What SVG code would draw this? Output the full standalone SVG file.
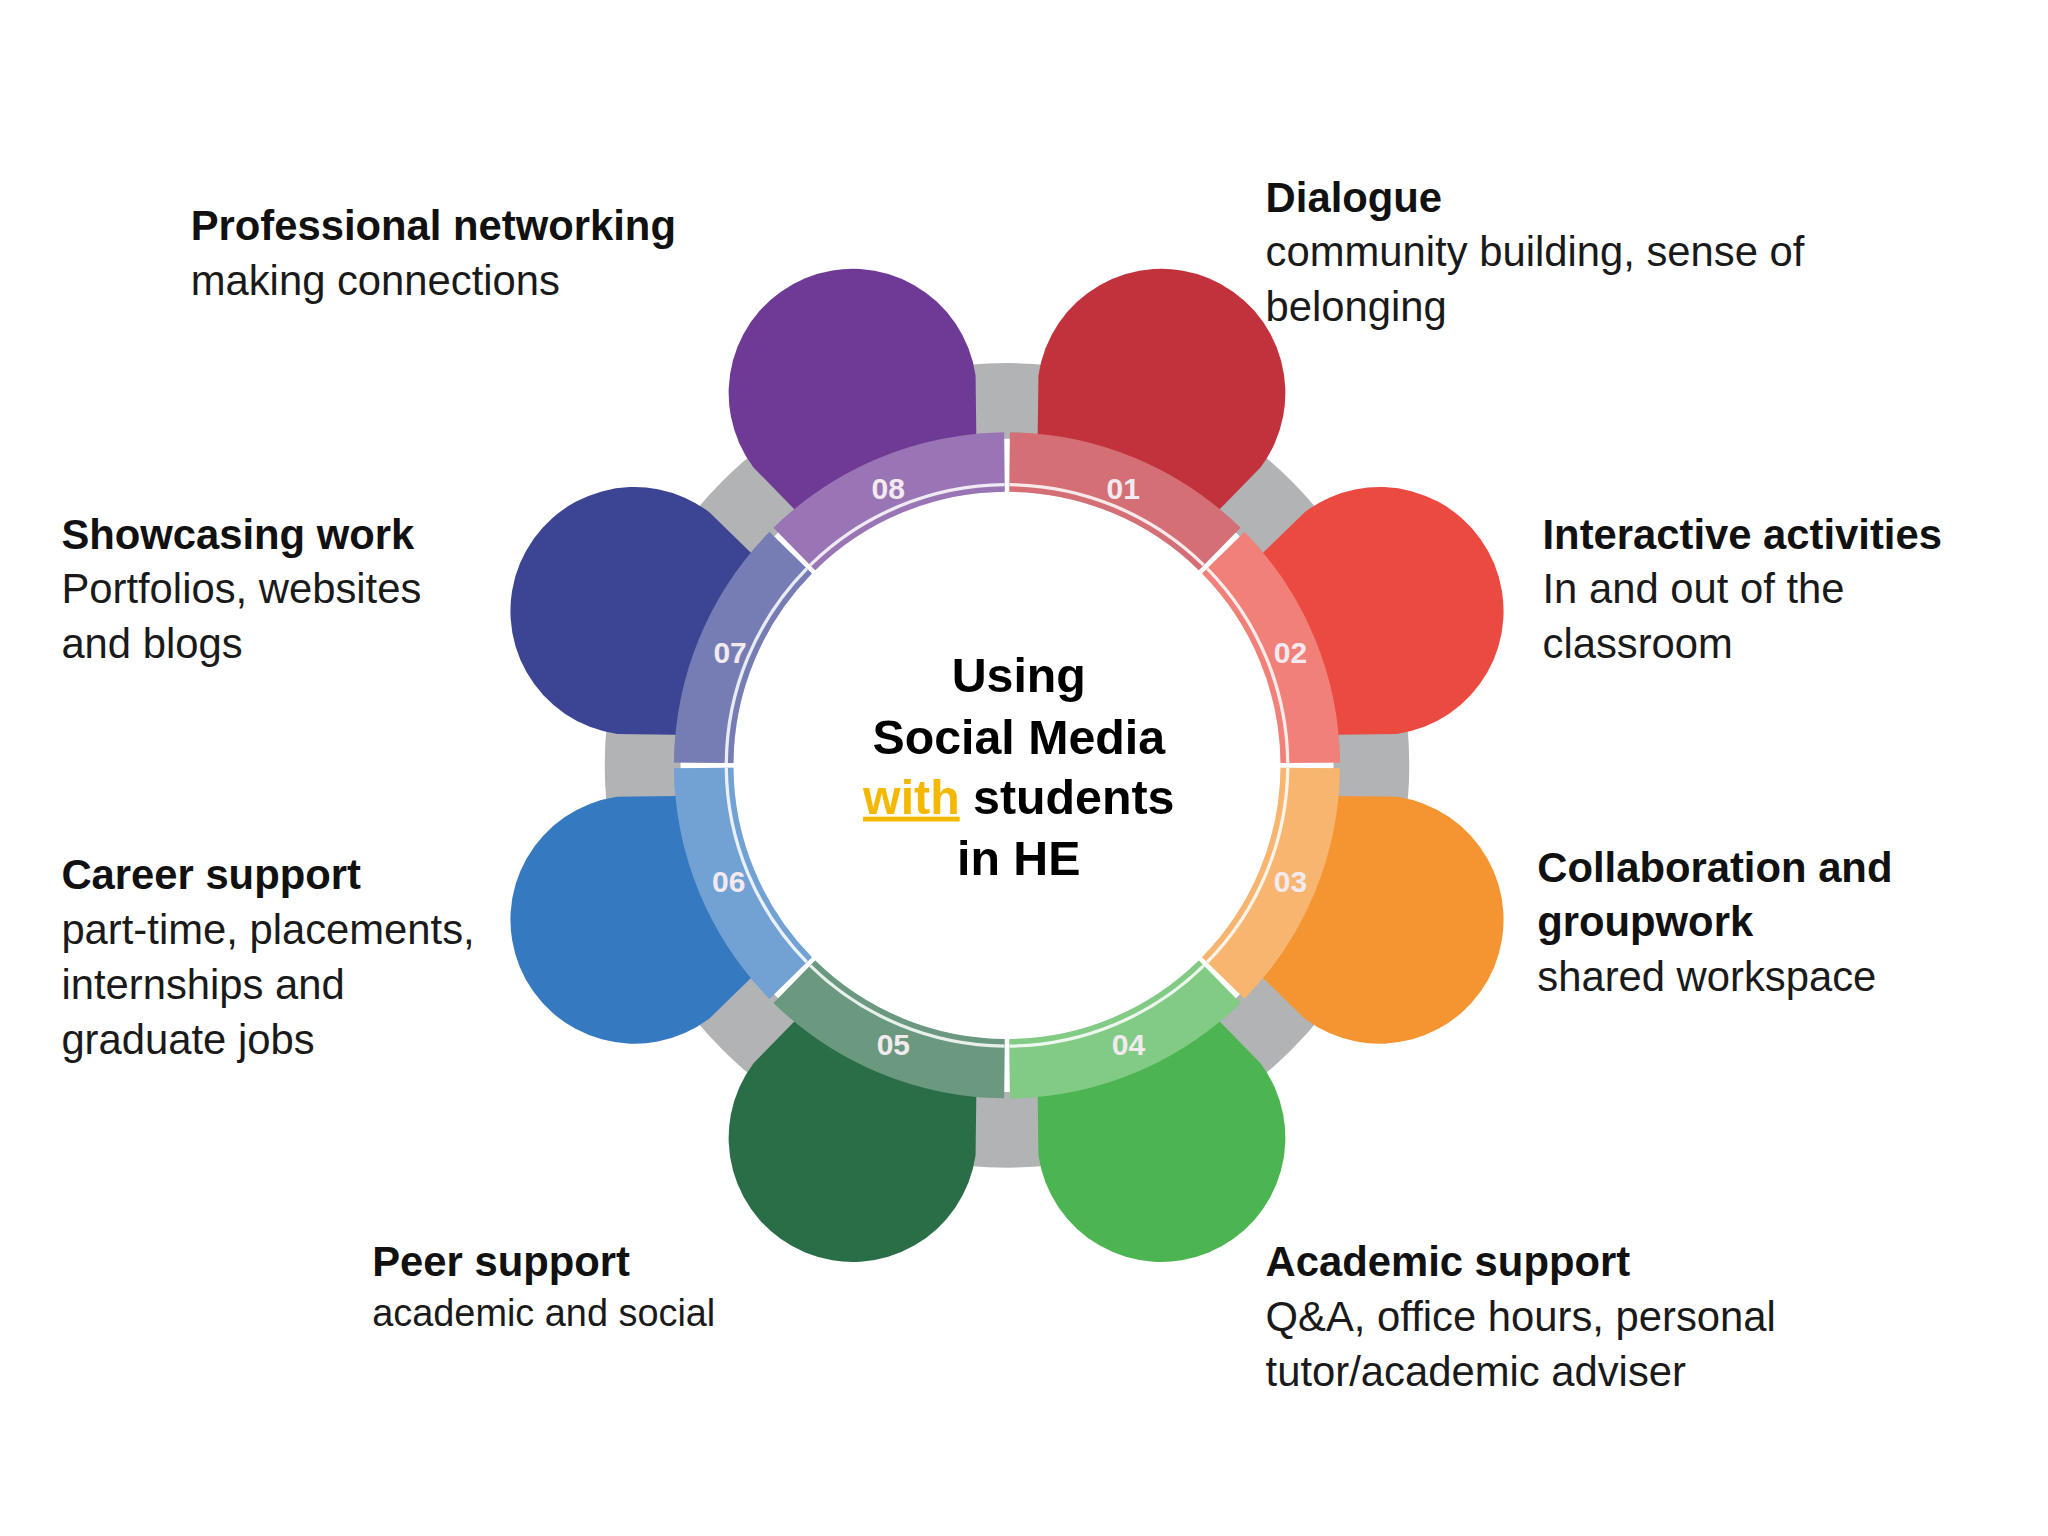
<svg xmlns="http://www.w3.org/2000/svg" width="2048" height="1536" viewBox="0 0 2048 1536">
<style>
.h{font-family:"Liberation Sans",Arial,sans-serif;font-weight:bold;font-size:32px;fill:#111}
.b{font-family:"Liberation Sans",Arial,sans-serif;font-size:32px;fill:#1a1a1a}
.c{font-family:"Liberation Sans",Arial,sans-serif;font-weight:bold;font-size:37px;fill:#000;text-anchor:middle}
.n{font-family:"Liberation Sans",Arial,sans-serif;font-weight:bold;font-size:23px;fill:#f3eaf0;text-anchor:middle}
.ov{fill:#fff;opacity:0.3}
.ln{fill:none;stroke:#fff;stroke-width:2.5;opacity:0.85}
</style>
<defs>
<path id="petal" d="M -70 -230 L -92 -285 A 95 95 0 1 1 92 -285 L 70 -230 Z"/>
<path id="seg" d="M -83.3 -201.1 A 217.7 217.7 0 0 0 0 0 Z" style="display:none"/>
<path id="band" d="M -78.5 -194.2 A 209.5 209.5 0 0 1 78.5 -194.2 L 95.5 -236.4 A 255 255 0 0 0 -95.5 -236.4 Z"/>
<path id="arc" d="M -80.5 -199.3 A 215 215 0 0 1 80.5 -199.3"/>
</defs>
<rect width="2048" height="1536" fill="#fff"/>
<g transform="scale(1.3061)">
<g id="ring"><circle cx="771" cy="586" r="279" fill="none" stroke="#b1b3b5" stroke-width="58"/></g>
<g transform="translate(771,586)">
<g id="node-01" transform="rotate(22.5)"><use href="#petal" fill="#c2323c"/><use href="#band" fill="#c2323c"/><use href="#band" class="ov"/><use href="#arc" class="ln"/></g>
<g id="node-02" transform="rotate(67.5)"><use href="#petal" fill="#eb4a40"/><use href="#band" fill="#eb4a40"/><use href="#band" class="ov"/><use href="#arc" class="ln"/></g>
<g id="node-03" transform="rotate(112.5)"><use href="#petal" fill="#f59532"/><use href="#band" fill="#f59532"/><use href="#band" class="ov"/><use href="#arc" class="ln"/></g>
<g id="node-05" transform="rotate(202.5)"><use href="#petal" fill="#2a6e48"/><use href="#band" fill="#2a6e48"/><use href="#band" class="ov"/><use href="#arc" class="ln"/></g>
<g id="node-04" transform="rotate(157.5)"><use href="#petal" fill="#4cb551"/><use href="#band" fill="#4cb551"/><use href="#band" class="ov"/><use href="#arc" class="ln"/></g>
<g id="node-06" transform="rotate(247.5)"><use href="#petal" fill="#3579c1"/><use href="#band" fill="#3579c1"/><use href="#band" class="ov"/><use href="#arc" class="ln"/></g>
<g id="node-07" transform="rotate(292.5)"><use href="#petal" fill="#3b4594"/><use href="#band" fill="#3b4594"/><use href="#band" class="ov"/><use href="#arc" class="ln"/></g>
<g id="node-08" transform="rotate(337.5)"><use href="#petal" fill="#6f3a95"/><use href="#band" fill="#6f3a95"/><use href="#band" class="ov"/><use href="#arc" class="ln"/></g>
<circle r="204" fill="#fff"/>
</g>
<g id="numbers">
<text class="n" x="860" y="382">01</text>
<text class="n" x="988" y="508">02</text>
<text class="n" x="988" y="683">03</text>
<text class="n" x="864" y="808">04</text>
<text class="n" x="684" y="808">05</text>
<text class="n" x="558" y="683">06</text>
<text class="n" x="559" y="508">07</text>
<text class="n" x="680" y="382">08</text>
</g>
<g id="center">
<text class="c" x="780" y="530">Using</text>
<text class="c" x="780" y="577">Social Media</text>
<text class="c" x="780" y="623"><tspan fill="#f5b800" text-decoration="underline">with</tspan> students</text>
<text class="c" x="780" y="670">in HE</text>
</g>
<g id="labels">
<text class="h" x="146" y="184">Professional networking</text>
<text class="b" x="146" y="226">making connections</text>
<text class="h" x="969" y="162">Dialogue</text>
<text class="b" x="969" y="204">community building, sense of</text>
<text class="b" x="969" y="246">belonging</text>
<text class="h" x="1181" y="420">Interactive activities</text>
<text class="b" x="1181" y="462">In and out of the</text>
<text class="b" x="1181" y="504">classroom</text>
<text class="h" x="1177" y="675">Collaboration and</text>
<text class="h" x="1177" y="717">groupwork</text>
<text class="b" x="1177" y="759">shared workspace</text>
<text class="h" x="969" y="977">Academic support</text>
<text class="b" x="969" y="1019">Q&amp;A, office hours, personal</text>
<text class="b" x="969" y="1061">tutor/academic adviser</text>
<text class="h" x="285" y="977">Peer support</text>
<text class="b" x="285" y="1015" style="font-size:29px">academic and social</text>
<text class="h" x="47" y="681">Career support</text>
<text class="b" x="47" y="723">part-time, placements,</text>
<text class="b" x="47" y="765">internships and</text>
<text class="b" x="47" y="807">graduate jobs</text>
<text class="h" x="47" y="420">Showcasing work</text>
<text class="b" x="47" y="462">Portfolios, websites</text>
<text class="b" x="47" y="504">and blogs</text>
</g>
</g>
</svg>
